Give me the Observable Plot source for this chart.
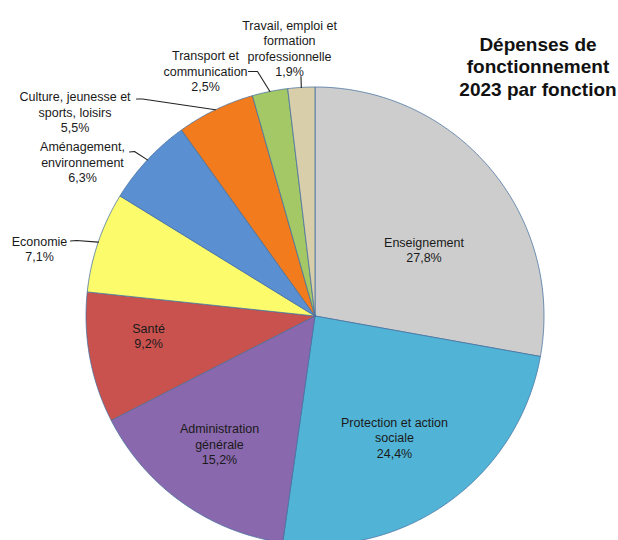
<!DOCTYPE html>
<html>
<head>
<meta charset="utf-8">
<script src="https://cdn.jsdelivr.net/npm/d3@7"></script>
<script src="https://cdn.jsdelivr.net/npm/@observablehq/plot@0.6"></script>
<style>
  html, body { margin: 0; padding: 0; background: #ffffff; }
  #chart svg { display: block; }
</style>
</head>
<body>
<div id="chart"></div>
<script>
// ---- Data ----
const categories = [
  "Enseignement",
  "Protection et action sociale",
  "Administration générale",
  "Santé",
  "Economie",
  "Aménagement, environnement",
  "Culture, jeunesse et sports, loisirs",
  "Transport et communication",
  "Travail, emploi et formation professionnelle"
];
const labelText = [
  "Enseignement",
  "Protection et action\nsociale",
  "Administration\ngénérale",
  "Santé",
  "Economie",
  "Aménagement,\nenvironnement",
  "Culture, jeunesse et\nsports, loisirs",
  "Transport et\ncommunication",
  "Travail, emploi et\nformation\nprofessionnelle"
];
const shares = [27.8, 24.4, 15.2, 9.2, 7.1, 6.3, 5.5, 2.5, 1.9];
const titleText = "Dépenses de\nfonctionnement\n2023 par fonction";

// ---- Styles / layout ----
const colors = ["#cdcdcd", "#51b4d6", "#8a68ad", "#c9524f", "#fbfb6b", "#5a8fd1", "#f27b1d", "#a4c866", "#d8cfaa"];
const W = 618, H = 540, CX = 314.5, CY = 315.5, R = 229;
const ux = px => (px - CX) / R;
const uy = py => (CY - py) / R;
// label block centres (pixels)
const labelPos = [[423.5, 249], [394, 437], [219, 443.5], [148, 335], [39, 248], [82, 161.5], [74.5, 111.5], [205, 70.5], [289, 47.5]];
// leader starting points & elbows for outside labels (pixels)
const leaderStart = { 4: [[70, 240.5], [76, 240]], 5: [[129, 151.5], [134, 151]], 6: [[136, 98.5], [142, 98.5]], 7: [[248, 71], [257, 71]], 8: [[300.5, 76], [300.5, 77]] };

const fmt = v => v.toFixed(1).replace(".", ",") + "%";

// ---- Pie geometry through d3.pie ----
const rows = categories.map((name, i) => ({ name, value: shares[i], color: colors[i], i }));
const arcs = d3.pie().sort(null).value(d => d.value).startAngle(0).endAngle(2 * Math.PI)(rows);

const slicePts = [];
for (const a of arcs) {
  const d = a.data;
  slicePts.push({ name: d.name, color: d.color, x: 0, y: 0 });
  const n = Math.max(2, Math.ceil((a.endAngle - a.startAngle) / (Math.PI / 360)));
  for (let k = 0; k <= n; k++) {
    const t = a.startAngle + (a.endAngle - a.startAngle) * k / n;
    slicePts.push({ name: d.name, color: d.color, x: Math.sin(t), y: Math.cos(t) });
  }
  slicePts.push({ name: d.name, color: d.color, x: 0, y: 0 });
}

const labels = arcs.map(a => {
  const i = a.data.i;
  return { text: labelText[i] + "\n" + fmt(a.data.value), x: ux(labelPos[i][0]), y: uy(labelPos[i][1]) };
});

const leaders = [];
for (const a of arcs) {
  const i = a.data.i;
  if (!leaderStart[i]) continue;
  const mid = (a.startAngle + a.endAngle) / 2;
  for (const p of leaderStart[i]) leaders.push({ name: a.data.name, x: ux(p[0]), y: uy(p[1]) });
  leaders.push({ name: a.data.name, x: Math.sin(mid), y: Math.cos(mid) });
}

const font = "'Liberation Sans', Arial, Helvetica, sans-serif";

const chart = Plot.plot({
  width: W,
  height: H,
  margin: 0,
  x: { domain: [ux(0), ux(W)], range: [0, W], axis: null },
  y: { domain: [uy(H), uy(0)], range: [H, 0], axis: null },
  color: { type: "identity" },
  style: { fontFamily: font, background: "#ffffff" },
  marks: [
    Plot.line(slicePts, { x: "x", y: "y", z: "name", fill: "color", stroke: "#46709f", strokeWidth: 0.9, strokeOpacity: 0.85, curve: "linear" }),
    Plot.line(leaders, { x: "x", y: "y", z: "name", stroke: "#222", strokeWidth: 1.1, curve: "linear" }),
    Plot.text(labels, { x: "x", y: "y", text: "text", fontSize: 12.5, lineHeight: 1.24, lineAnchor: "middle", textAnchor: "middle", fill: "#1a1a1a", fontFamily: font }),
    Plot.text([titleText], { x: ux(537.5), y: uy(65.5), text: d => d, fontSize: 19, fontWeight: "bold", lineHeight: 1.2, lineAnchor: "middle", textAnchor: "middle", fill: "#111", fontFamily: font })
  ]
});

document.getElementById("chart").appendChild(chart);
</script>
</body>
</html>
